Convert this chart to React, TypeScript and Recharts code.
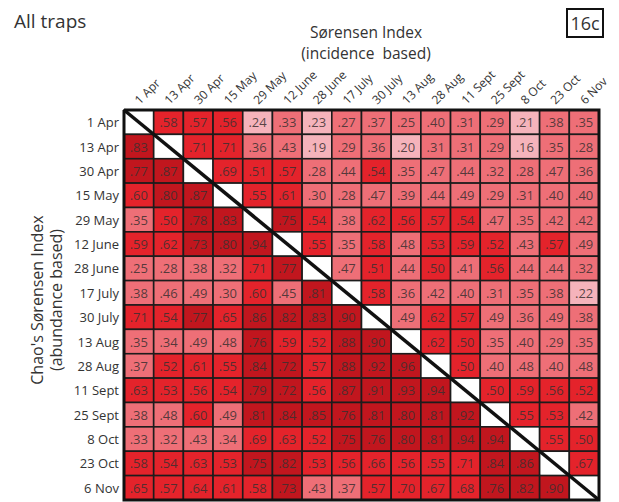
import React from "react";
import { ScatterChart, Scatter, XAxis, YAxis } from "recharts";

const dates = [
  "1 Apr",
  "13 Apr",
  "30 Apr",
  "15 May",
  "29 May",
  "12 June",
  "28 June",
  "17 July",
  "30 July",
  "13 Aug",
  "28 Aug",
  "11 Sept",
  "25 Sept",
  "8 Oct",
  "23 Oct",
  "6 Nov",
];

// rows = sampling date, columns = sampling date. null = diagonal
// upper triangle: Sørensen (incidence), lower triangle: Chao's Sørensen (abundance)
const matrix: (number | null)[][] = [
  [null, 0.58, 0.57, 0.56, 0.24, 0.33, 0.23, 0.27, 0.37, 0.25, 0.4, 0.31, 0.29, 0.21, 0.38, 0.35],
  [0.83, null, 0.71, 0.71, 0.36, 0.43, 0.19, 0.29, 0.36, 0.2, 0.31, 0.31, 0.29, 0.16, 0.35, 0.28],
  [0.77, 0.87, null, 0.69, 0.51, 0.57, 0.28, 0.44, 0.54, 0.35, 0.47, 0.44, 0.32, 0.28, 0.47, 0.36],
  [0.6, 0.8, 0.87, null, 0.55, 0.61, 0.3, 0.28, 0.47, 0.39, 0.44, 0.49, 0.29, 0.31, 0.4, 0.4],
  [0.35, 0.5, 0.78, 0.83, null, 0.75, 0.54, 0.38, 0.62, 0.56, 0.57, 0.54, 0.47, 0.35, 0.42, 0.42],
  [0.59, 0.62, 0.73, 0.8, 0.94, null, 0.55, 0.35, 0.58, 0.48, 0.53, 0.59, 0.52, 0.43, 0.57, 0.49],
  [0.25, 0.28, 0.38, 0.32, 0.71, 0.77, null, 0.47, 0.51, 0.44, 0.5, 0.41, 0.56, 0.44, 0.44, 0.32],
  [0.38, 0.46, 0.49, 0.3, 0.6, 0.45, 0.81, null, 0.58, 0.36, 0.42, 0.4, 0.31, 0.35, 0.38, 0.22],
  [0.71, 0.54, 0.77, 0.65, 0.86, 0.82, 0.83, 0.9, null, 0.49, 0.62, 0.57, 0.49, 0.36, 0.49, 0.38],
  [0.35, 0.34, 0.49, 0.48, 0.76, 0.59, 0.52, 0.88, 0.9, null, 0.62, 0.5, 0.35, 0.4, 0.29, 0.35],
  [0.37, 0.52, 0.61, 0.55, 0.84, 0.72, 0.57, 0.88, 0.92, 0.96, null, 0.5, 0.4, 0.48, 0.4, 0.48],
  [0.63, 0.53, 0.56, 0.54, 0.79, 0.72, 0.56, 0.87, 0.91, 0.93, 0.94, null, 0.5, 0.59, 0.56, 0.52],
  [0.38, 0.48, 0.6, 0.49, 0.81, 0.84, 0.85, 0.76, 0.81, 0.8, 0.81, 0.92, null, 0.55, 0.53, 0.42],
  [0.33, 0.32, 0.43, 0.34, 0.69, 0.63, 0.52, 0.75, 0.76, 0.8, 0.81, 0.94, 0.94, null, 0.55, 0.5],
  [0.58, 0.54, 0.63, 0.53, 0.75, 0.82, 0.53, 0.56, 0.66, 0.56, 0.55, 0.71, 0.84, 0.86, null, 0.67],
  [0.65, 0.57, 0.64, 0.61, 0.58, 0.73, 0.43, 0.37, 0.57, 0.7, 0.67, 0.68, 0.76, 0.82, 0.9, null],
];

const FONT = "'Open Sans', sans-serif";
const W = 619;
const H = 502;
const M = { top: 109, right: 20, bottom: 2, left: 0 };
const Y_AXIS_W = 124;
const CELL_W = (W - M.left - M.right - Y_AXIS_W) / dates.length;
const CELL_H = (H - M.top - M.bottom) / dates.length;

function colorFor(v: number | null) {
  if (v == null) return "#ffffff";
  if (v < 0.25) return "#f5b3bb";
  if (v < 0.5) return "#ee6f77";
  if (v < 0.72) return "#e4232b";
  return "#c1161e";
}

const cells = matrix.flatMap((row, r) =>
  row.map((v, c) => ({ x: c, y: r, v }))
);

// diagonal stroke and frame, in cell coordinates
const lo = -0.5;
const hi = dates.length - 0.5;
const diagonal = [
  { x: lo, y: lo },
  { x: hi, y: hi },
];
const frame = [
  { x: lo, y: lo },
  { x: hi, y: lo },
  { x: hi, y: hi },
  { x: lo, y: hi },
  { x: lo, y: lo },
];

function HeatCell(props: any) {
  const { cx, cy, payload } = props;
  if (cx == null || cy == null) return null;
  const v = payload.v as number | null;
  return (
    <g>
      <rect
        x={cx - CELL_W / 2}
        y={cy - CELL_H / 2}
        width={CELL_W}
        height={CELL_H}
        fill={colorFor(v)}
        stroke="#1c1c1c"
        strokeWidth={1.6}
      />
      {v != null && (
        <text
          x={cx}
          y={cy + 5}
          textAnchor="middle"
          fontSize={13}
          fontFamily={FONT}
          fill="#3b3030"
          fillOpacity={0.85}
        >
          {"." + Math.round(v * 100).toString().padStart(2, "0")}
        </text>
      )}
    </g>
  );
}

function TopTick(props: any) {
  const { x, y, payload } = props;
  const ax = x + 1;
  const ay = y - 3;
  return (
    <text
      x={ax}
      y={ay}
      transform={`rotate(-45, ${ax}, ${ay})`}
      textAnchor="start"
      fontSize={12}
      fontFamily={FONT}
      fill="#333"
    >
      {dates[payload.value]}
    </text>
  );
}

function LeftTick(props: any) {
  const { x, y, payload } = props;
  return (
    <text
      x={x}
      y={y + 5}
      textAnchor="end"
      fontSize={13}
      fontFamily={FONT}
      fill="#333"
    >
      {dates[payload.value]}
    </text>
  );
}

const ticks = dates.map((_, i) => i);
const noShape = () => null;

export default function App() {
  return (
    <div
      style={{
        position: "absolute",
        left: 0,
        top: 0,
        width: W,
        height: H,
        background: "#fff",
        fontFamily: FONT,
        color: "#333",
      }}
    >
      <ScatterChart width={W} height={H} margin={M}>
        <XAxis
          type="number"
          dataKey="x"
          orientation="top"
          domain={[lo, hi]}
          ticks={ticks}
          interval={0}
          tick={<TopTick />}
          tickLine={false}
          axisLine={false}
          tickSize={0}
          tickMargin={2}
          height={1}
        />
        <YAxis
          type="number"
          dataKey="y"
          domain={[lo, hi]}
          reversed
          ticks={ticks}
          interval={0}
          width={Y_AXIS_W}
          tick={<LeftTick />}
          tickLine={false}
          axisLine={false}
          tickSize={0}
          tickMargin={5}
        />
        <Scatter data={cells} shape={<HeatCell />} isAnimationActive={false} />
        <Scatter
          data={diagonal}
          shape={noShape}
          line={{ stroke: "#111", strokeWidth: 3.5 }}
          isAnimationActive={false}
        />
        <Scatter
          data={frame}
          shape={noShape}
          line={{ stroke: "#111", strokeWidth: 3 }}
          isAnimationActive={false}
        />
      </ScatterChart>

      <div style={{ position: "absolute", left: 14, top: 8, fontSize: 19 }}>
        All traps
      </div>
      <div
        style={{
          position: "absolute",
          left: 566,
          top: 8,
          width: 34,
          height: 26,
          border: "2px solid #111",
          fontSize: 18,
          lineHeight: "26px",
          textAlign: "center",
        }}
      >
        16c
      </div>
      <div
        style={{
          position: "absolute",
          left: 256,
          top: 24,
          width: 220,
          textAlign: "center",
          fontSize: 15.5,
          lineHeight: "17px",
        }}
      >
        Sørensen Index
      </div>
      <div
        style={{
          position: "absolute",
          left: 256,
          top: 45,
          width: 220,
          textAlign: "center",
          fontSize: 15.5,
          lineHeight: "17px",
        }}
      >
        (incidence&nbsp; based)
      </div>
      <div
        style={{
          position: "absolute",
          left: 48 - 150,
          top: 300 - 20,
          width: 300,
          height: 40,
          transform: "rotate(-90deg)",
          textAlign: "center",
          fontSize: 16,
          lineHeight: "19px",
        }}
      >
        Chao's Sørensen Index
        <br />
        (abundance based)
      </div>
    </div>
  );
}
